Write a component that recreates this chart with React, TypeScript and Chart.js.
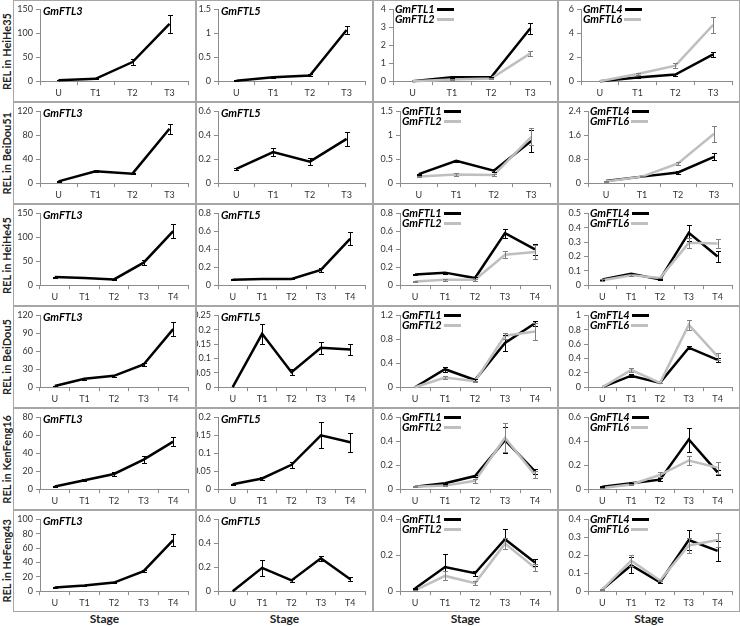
import React, { useEffect, useRef } from 'react';
import { Chart, registerables } from 'chart.js';

Chart.register(...registerables);

const stages4 = ['U', 'T1', 'T2', 'T3'];
const stages5 = ['U', 'T1', 'T2', 'T3', 'T4'];
const cultivars = ['HeiHe35', 'BeiDou51', 'HeiHe45', 'BeiDou5', 'KenFeng16', 'HeFeng43'];

// y axis max / step per row (cols: FTL3, FTL5, FTL1/2, FTL4/6)
const yMax = [
  [150, 1.5, 4, 6],
  [120, 0.6, 1.5, 2.4],
  [150, 0.8, 0.8, 0.5],
  [120, 0.25, 1.2, 1],
  [80, 0.2, 0.6, 0.6],
  [100, 0.6, 0.4, 0.4],
];
const yStep = [
  [50, 0.5, 1, 2],
  [40, 0.2, 0.5, 0.4],
  [50, 0.2, 0.2, 0.1],
  [30, 0.05, 0.2, 0.2],
  [20, 0.05, 0.2, 0.2],
  [20, 0.2, 0.2, 0.1],
];

// HeiHe35
const hh35Ftl3 = [2, 5, 40, 120];
const hh35Ftl3Err = [0.5, 1, 6, 19];
const hh35Ftl5 = [0.01, 0.08, 0.12, 1.07];
const hh35Ftl5Err = [0.005, 0.01, 0.02, 0.09];
const hh35Ftl1 = [0, 0.22, 0.22, 2.95];
const hh35Ftl1Err = [0, 0.02, 0.02, 0.3];
const hh35Ftl2 = [0, 0.1, 0.15, 1.55];
const hh35Ftl2Err = [0, 0.02, 0.03, 0.15];
const hh35Ftl4 = [0, 0.3, 0.55, 2.25];
const hh35Ftl4Err = [0, 0.05, 0.08, 0.2];
const hh35Ftl6 = [0, 0.6, 1.3, 4.7];
const hh35Ftl6Err = [0, 0.1, 0.2, 0.7];

// BeiDou51
const bd51Ftl3 = [3, 20, 16, 91];
const bd51Ftl3Err = [0.5, 1.5, 1, 8];
const bd51Ftl5 = [0.12, 0.26, 0.18, 0.37];
const bd51Ftl5Err = [0.01, 0.03, 0.03, 0.055];
const bd51Ftl1 = [0.19, 0.47, 0.26, 0.88];
const bd51Ftl1Err = [0.01, 0.02, 0.03, 0.23];
const bd51Ftl2 = [0.14, 0.18, 0.17, 0.97];
const bd51Ftl2Err = [0.02, 0.03, 0.02, 0.18];
const bd51Ftl4 = [0.07, 0.22, 0.36, 0.88];
const bd51Ftl4Err = [0.01, 0.02, 0.06, 0.12];
const bd51Ftl6 = [0.06, 0.22, 0.66, 1.65];
const bd51Ftl6Err = [0.01, 0.02, 0.06, 0.27];

// HeiHe45
const hh45Ftl3 = [17, 15, 12, 47, 113];
const hh45Ftl3Err = [1, 1, 1, 5, 14];
const hh45Ftl5 = [0.06, 0.07, 0.07, 0.17, 0.52];
const hh45Ftl5Err = [0.005, 0.005, 0.005, 0.02, 0.07];
const hh45Ftl1 = [0.12, 0.14, 0.08, 0.58, 0.4];
const hh45Ftl1Err = [0.01, 0.01, 0.01, 0.05, 0.06];
const hh45Ftl2 = [0.04, 0.06, 0.06, 0.34, 0.37];
const hh45Ftl2Err = [0.005, 0.01, 0.01, 0.04, 0.08];
const hh45Ftl4 = [0.04, 0.08, 0.04, 0.365, 0.2];
const hh45Ftl4Err = [0.005, 0.005, 0.003, 0.055, 0.035];
const hh45Ftl6 = [0.035, 0.07, 0.05, 0.295, 0.29];
const hh45Ftl6Err = [0.005, 0.005, 0.003, 0.035, 0.03];

// BeiDou5
const bd5Ftl3 = [2, 14, 19, 38, 97];
const bd5Ftl3Err = [0.5, 2, 2, 3, 12];
const bd5Ftl5 = [0, 0.186, 0.052, 0.137, 0.131];
const bd5Ftl5Err = [0, 0.035, 0.01, 0.02, 0.019];
const bd5Ftl1 = [0, 0.3, 0.12, 0.74, 1.07];
const bd5Ftl1Err = [0, 0.04, 0.01, 0.13, 0.04];
const bd5Ftl2 = [0, 0.16, 0.1, 0.86, 0.93];
const bd5Ftl2Err = [0, 0.03, 0.01, 0.05, 0.14];
const bd5Ftl4 = [0, 0.16, 0.06, 0.55, 0.38];
const bd5Ftl4Err = [0, 0.02, 0.005, 0.02, 0.03];
const bd5Ftl6 = [0, 0.24, 0.06, 0.87, 0.43];
const bd5Ftl6Err = [0, 0.03, 0.005, 0.07, 0.05];

// KenFeng16
const kf16Ftl3 = [3, 10, 17, 33, 53];
const kf16Ftl3Err = [0.3, 1, 2, 4, 5];
const kf16Ftl5 = [0.014, 0.03, 0.068, 0.15, 0.131];
const kf16Ftl5Err = [0.001, 0.004, 0.008, 0.036, 0.026];
const kf16Ftl1 = [0.02, 0.05, 0.11, 0.41, 0.15];
const kf16Ftl1Err = [0.005, 0.005, 0.01, 0.11, 0.02];
const kf16Ftl2 = [0.02, 0.03, 0.07, 0.43, 0.12];
const kf16Ftl2Err = [0.005, 0.005, 0.015, 0.12, 0.03];
const kf16Ftl4 = [0.02, 0.05, 0.08, 0.415, 0.14];
const kf16Ftl4Err = [0.003, 0.005, 0.01, 0.1, 0.02];
const kf16Ftl6 = [0.01, 0.04, 0.12, 0.24, 0.18];
const kf16Ftl6Err = [0.003, 0.005, 0.02, 0.04, 0.05];

// HeFeng43
const hf43Ftl3 = [5, 8, 12, 28, 71];
const hf43Ftl3Err = [0.5, 0.5, 1, 1.5, 8];
const hf43Ftl5 = [0, 0.195, 0.09, 0.275, 0.1];
const hf43Ftl5Err = [0, 0.065, 0.01, 0.02, 0.015];
const hf43Ftl1 = [0.015, 0.135, 0.1, 0.29, 0.16];
const hf43Ftl1Err = [0.005, 0.07, 0.015, 0.055, 0.02];
const hf43Ftl2 = [0.005, 0.085, 0.045, 0.265, 0.13];
const hf43Ftl2Err = [0.002, 0.025, 0.01, 0.03, 0.02];
const hf43Ftl4 = [0.01, 0.145, 0.05, 0.285, 0.225];
const hf43Ftl4Err = [0.003, 0.045, 0.005, 0.055, 0.055];
const hf43Ftl6 = [0.01, 0.17, 0.06, 0.255, 0.285];
const hf43Ftl6Err = [0.003, 0.03, 0.005, 0.04, 0.04];

const BLACK = '#000000';
const GRAY = '#bfbfbf';
const AXIS = '#8c8c8c';
const FONT = 'Lato, "Liberation Sans", sans-serif';

type Series = { name: string; data: number[]; err: number[]; color: string };

const S = (name: string, data: number[], err: number[], color: string): Series => ({ name, data, err, color });

const rows: { labels: string[]; panels: Series[][] }[] = [
  {
    labels: stages4,
    panels: [
      [S('GmFTL3', hh35Ftl3, hh35Ftl3Err, BLACK)],
      [S('GmFTL5', hh35Ftl5, hh35Ftl5Err, BLACK)],
      [S('GmFTL1', hh35Ftl1, hh35Ftl1Err, BLACK), S('GmFTL2', hh35Ftl2, hh35Ftl2Err, GRAY)],
      [S('GmFTL4', hh35Ftl4, hh35Ftl4Err, BLACK), S('GmFTL6', hh35Ftl6, hh35Ftl6Err, GRAY)],
    ],
  },
  {
    labels: stages4,
    panels: [
      [S('GmFTL3', bd51Ftl3, bd51Ftl3Err, BLACK)],
      [S('GmFTL5', bd51Ftl5, bd51Ftl5Err, BLACK)],
      [S('GmFTL1', bd51Ftl1, bd51Ftl1Err, BLACK), S('GmFTL2', bd51Ftl2, bd51Ftl2Err, GRAY)],
      [S('GmFTL4', bd51Ftl4, bd51Ftl4Err, BLACK), S('GmFTL6', bd51Ftl6, bd51Ftl6Err, GRAY)],
    ],
  },
  {
    labels: stages5,
    panels: [
      [S('GmFTL3', hh45Ftl3, hh45Ftl3Err, BLACK)],
      [S('GmFTL5', hh45Ftl5, hh45Ftl5Err, BLACK)],
      [S('GmFTL1', hh45Ftl1, hh45Ftl1Err, BLACK), S('GmFTL2', hh45Ftl2, hh45Ftl2Err, GRAY)],
      [S('GmFTL4', hh45Ftl4, hh45Ftl4Err, BLACK), S('GmFTL6', hh45Ftl6, hh45Ftl6Err, GRAY)],
    ],
  },
  {
    labels: stages5,
    panels: [
      [S('GmFTL3', bd5Ftl3, bd5Ftl3Err, BLACK)],
      [S('GmFTL5', bd5Ftl5, bd5Ftl5Err, BLACK)],
      [S('GmFTL1', bd5Ftl1, bd5Ftl1Err, BLACK), S('GmFTL2', bd5Ftl2, bd5Ftl2Err, GRAY)],
      [S('GmFTL4', bd5Ftl4, bd5Ftl4Err, BLACK), S('GmFTL6', bd5Ftl6, bd5Ftl6Err, GRAY)],
    ],
  },
  {
    labels: stages5,
    panels: [
      [S('GmFTL3', kf16Ftl3, kf16Ftl3Err, BLACK)],
      [S('GmFTL5', kf16Ftl5, kf16Ftl5Err, BLACK)],
      [S('GmFTL1', kf16Ftl1, kf16Ftl1Err, BLACK), S('GmFTL2', kf16Ftl2, kf16Ftl2Err, GRAY)],
      [S('GmFTL4', kf16Ftl4, kf16Ftl4Err, BLACK), S('GmFTL6', kf16Ftl6, kf16Ftl6Err, GRAY)],
    ],
  },
  {
    labels: stages5,
    panels: [
      [S('GmFTL3', hf43Ftl3, hf43Ftl3Err, BLACK)],
      [S('GmFTL5', hf43Ftl5, hf43Ftl5Err, BLACK)],
      [S('GmFTL1', hf43Ftl1, hf43Ftl1Err, BLACK), S('GmFTL2', hf43Ftl2, hf43Ftl2Err, GRAY)],
      [S('GmFTL4', hf43Ftl4, hf43Ftl4Err, BLACK), S('GmFTL6', hf43Ftl6, hf43Ftl6Err, GRAY)],
    ],
  },
];

// grid geometry
const colLeft = [13, 196, 373, 558];
const colRight = [196, 373, 558, 740];
const rowTop = [0, 102, 204, 306, 408, 510];
const ROW_H = 102;
const axisWidth = [26, 21, 26, 29];

// draws Excel-style I error bars
const errorBars = {
  id: 'errorBars',
  afterDatasetsDraw(chart: any) {
    const { ctx } = chart;
    const yScale = chart.scales.y;
    chart.data.datasets.forEach((ds: any, i: number) => {
      const errs: number[] = ds.errors;
      if (!errs) return;
      const meta = chart.getDatasetMeta(i);
      ctx.save();
      ctx.strokeStyle = ds.errColor;
      ctx.lineWidth = 1;
      meta.data.forEach((pt: any, j: number) => {
        const v = ds.data[j];
        const e = errs[j];
        if (!e) return;
        const x = Math.round(pt.x) + 0.5;
        const y1 = Math.round(yScale.getPixelForValue(v + e)) + 0.5;
        const y2 = Math.round(yScale.getPixelForValue(Math.max(v - e, 0))) + 0.5;
        ctx.beginPath();
        ctx.moveTo(x, y1);
        ctx.lineTo(x, y2);
        ctx.moveTo(x - 2.5, y1);
        ctx.lineTo(x + 2.5, y1);
        ctx.moveTo(x - 2.5, y2);
        ctx.lineTo(x + 2.5, y2);
        ctx.stroke();
      });
      ctx.restore();
    });
  },
};

function Panel({ left, top, width, height, labels, series, max, step, axisW }: {
  left: number; top: number; width: number; height: number; labels: string[];
  series: Series[]; max: number; step: number; axisW: number;
}) {
  const canvasRef = useRef<HTMLCanvasElement>(null);

  useEffect(() => {
    if (!canvasRef.current) return;
    const tickFont = { family: FONT, size: 9 };
    const chart = new Chart(canvasRef.current, {
      type: 'line',
      data: {
        labels,
        datasets: series.map((s, i) => ({
          label: s.name,
          data: s.data,
          errors: s.err,
          errColor: s.color === GRAY ? '#7f7f7f' : '#000',
          borderColor: s.color,
          backgroundColor: s.color,
          borderWidth: 2.5,
          pointRadius: 0,
          tension: 0,
          order: series.length - i,
          clip: false,
        })) as any,
      },
      options: {
        animation: false,
        responsive: true,
        maintainAspectRatio: false,
        layout: { padding: { left: 0, right: 7, top: 8, bottom: 1 } },
        plugins: { legend: { display: false }, tooltip: { enabled: false } },
        scales: {
          x: {
            offset: true,
            grid: { offset: true, drawOnChartArea: false, drawTicks: true, tickLength: 4, color: AXIS },
            border: { color: AXIS },
            ticks: { font: tickFont, color: '#333', padding: 2, maxRotation: 0, autoSkip: false },
          },
          y: {
            min: 0,
            max,
            afterFit: (scale: any) => { scale.width = axisW; },
            grid: { drawOnChartArea: false, drawTicks: true, tickLength: 4, color: AXIS },
            border: { color: AXIS },
            ticks: {
              stepSize: step,
              font: tickFont,
              color: '#333',
              padding: 3,
              callback: (v: any) => String(+Number(v).toFixed(3)),
            },
          },
        },
      } as any,
      plugins: [errorBars],
    });
    return () => chart.destroy();
  }, [labels, series, max, step, axisW]);

  return (
    <div style={{
      position: 'absolute', left, top, width, height, boxSizing: 'border-box',
      border: '1px solid #a6a6a6', background: '#fff',
    }}>
      <div style={{ position: 'absolute', inset: 0 }}>
        <canvas ref={canvasRef}></canvas>
      </div>
      {series.length === 1 ? (
        <div style={{
          position: 'absolute', left: axisW + 3, top: 3, fontFamily: FONT, fontSize: 11,
          fontWeight: 'bold', fontStyle: 'italic', color: '#000',
        }}>{series[0].name}</div>
      ) : (
        <div style={{ position: 'absolute', left: axisW + 2, top: 3 }}>
          {series.map(s => (
            <div key={s.name} style={{ display: 'flex', alignItems: 'center', height: 10 }}>
              <span style={{
                fontFamily: FONT, fontSize: 11, fontWeight: 'bold', fontStyle: 'italic',
                color: '#000', lineHeight: '10px',
              }}>{s.name}</span>
              <span style={{ display: 'inline-block', width: 17, height: 3, marginLeft: 2, background: s.color }}></span>
            </div>
          ))}
        </div>
      )}
    </div>
  );
}

export default function App() {
  return (
    <div style={{ position: 'absolute', left: 0, top: 0, width: 740, height: 626, background: '#fff', overflow: 'hidden' }}>
      {rows.map((row, r) => (
        <React.Fragment key={r}>
          <div style={{
            position: 'absolute', left: 0, top: rowTop[r], width: 13, height: ROW_H,
            display: 'flex', alignItems: 'center', justifyContent: 'center',
          }}>
            <span style={{
              writingMode: 'vertical-rl', transform: 'rotate(180deg)', whiteSpace: 'nowrap',
              fontFamily: FONT, fontWeight: 'bold', fontSize: 11, color: '#222',
            }}>REL in {cultivars[r]}</span>
          </div>
          {row.panels.map((series, c) => (
            <Panel
              key={c}
              left={colLeft[c]}
              top={rowTop[r]}
              width={colRight[c] - colLeft[c]}
              height={ROW_H}
              labels={row.labels}
              series={series}
              max={yMax[r][c]}
              step={yStep[r][c]}
              axisW={r === 0 && c >= 2 ? axisWidth[c] - 7 : axisWidth[c]}
            />
          ))}
        </React.Fragment>
      ))}
      {colLeft.map((l, c) => (
        <div key={c} style={{
          position: 'absolute', left: l, top: 611, width: colRight[c] - l, textAlign: 'center',
          fontFamily: FONT, fontWeight: 'bold', fontSize: 12, color: '#222',
        }}>Stage</div>
      ))}
    </div>
  );
}
